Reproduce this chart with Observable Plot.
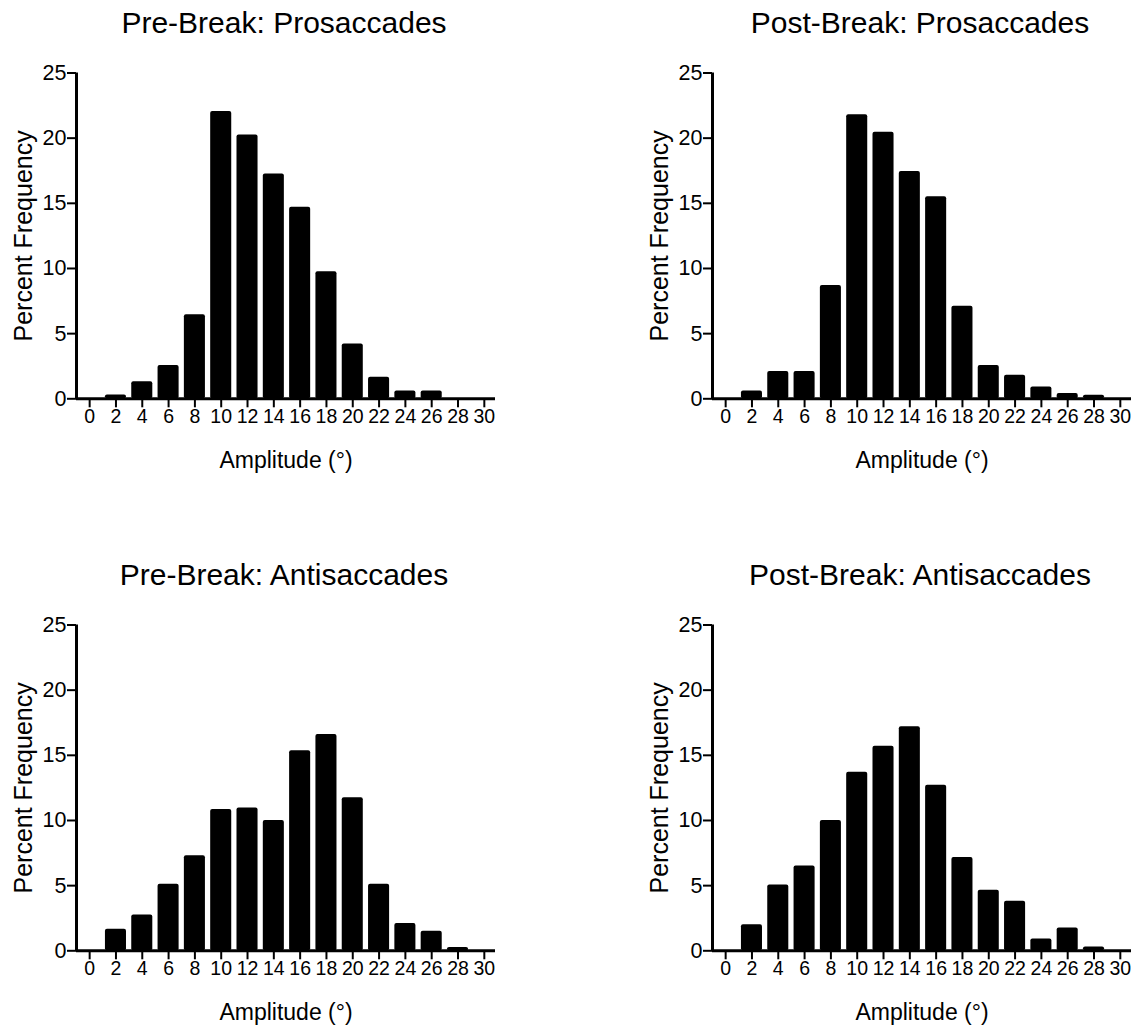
<!DOCTYPE html>
<html><head><meta charset="utf-8">
<script src="https://cdn.jsdelivr.net/npm/d3@7"></script>
<script src="https://cdn.jsdelivr.net/npm/@observablehq/plot@0.6"></script>
<style>
body{margin:0;background:#fff;font-family:"Liberation Sans",Arial,sans-serif;}
#wrap{position:relative;width:1138px;height:1032px;background:#fff;}
.panel{position:absolute;width:500px;height:500px;}
.title{position:absolute;font-size:30px;line-height:30px;color:#000;white-space:nowrap;transform:translateX(-50%);}
.panel svg{position:absolute;left:0;top:50px;}
.panel svg g[aria-label="x-axis tick label"]{font-size:19.5px;}
.panel svg g[aria-label="y-axis tick label"]{font-size:21.5px;}
</style></head><body><div id="wrap"></div>
<script>
// ---- data ----
const amplitudes = [2, 4, 6, 8, 10, 12, 14, 16, 18, 20, 22, 24, 26, 28];
const preBreakPro  = [0.3, 1.3, 2.55, 6.45, 22.05, 20.25, 17.25, 14.7, 9.75, 4.2, 1.65, 0.6, 0.6, 0];
const postBreakPro = [0.6, 2.1, 2.1, 8.7, 21.8, 20.45, 17.45, 15.5, 7.1, 2.55, 1.8, 0.9, 0.4, 0.28];
const preBreakAnti = [1.65, 2.75, 5.1, 7.3, 10.85, 10.95, 10.0, 15.35, 16.6, 11.75, 5.1, 2.1, 1.5, 0.25];
const postBreakAnti= [2.0, 5.05, 6.5, 10.0, 13.7, 15.7, 17.2, 12.7, 7.15, 4.65, 3.8, 0.9, 1.75, 0.3];
const titles = ["Pre-Break: Prosaccades", "Post-Break: Prosaccades", "Pre-Break: Antisaccades", "Post-Break: Antisaccades"];
const xTicks = [0, 2, 4, 6, 8, 10, 12, 14, 16, 18, 20, 22, 24, 26, 28, 30];
const yTicks = [0, 5, 10, 15, 20, 25];
const xLabel = "Amplitude (°)";
const yLabel = "Percent Frequency";

const series = [preBreakPro, postBreakPro, preBreakAnti, postBreakAnti];
const positions = [[0, 0], [636, 0], [0, 552], [636, 552]];
const binHalf = 0.8;
const font = "'Liberation Sans', Arial, Helvetica, sans-serif";

const wrap = document.getElementById("wrap");
series.forEach((vals, i) => {
  const data = amplitudes.map((a, j) => ({a, v: vals[j]}));
  const panel = document.createElement("div");
  panel.className = "panel";
  panel.style.left = positions[i][0] + "px";
  panel.style.top = positions[i][1] + "px";
  const t = document.createElement("div");
  t.className = "title";
  t.style.left = "284px";
  t.style.top = "8px";
  t.textContent = titles[i];
  panel.appendChild(t);

  const chart = Plot.plot({
    width: 500, height: 440,
    marginLeft: 76, marginRight: 5, marginTop: 22.5, marginBottom: 91.7,
    x: {domain: [-1, 30.85], axis: null},
    y: {domain: [0, 25], axis: null},
    style: {fontFamily: font, color: "#000", background: "white", overflow: "visible"},
    marks: [
      Plot.rectY(data, {x1: d => d.a - binHalf, x2: d => d.a + binHalf, y: "v", fill: "#000", rx: 2}),
      Plot.ruleX([-1], {y1: 0, y2: 25, stroke: "#000", strokeWidth: 3}),
      Plot.ruleY([0], {x1: -1, x2: 30.85, stroke: "#000", strokeWidth: 3}),
      Plot.axisX(xTicks, {anchor: "bottom", tickSize: 9, tickPadding: 1, strokeWidth: 2, fontSize: 19.5, tickFormat: d => String(d), label: null, fill: "#000"}),
      Plot.axisY(yTicks, {anchor: "left", tickSize: 9, tickPadding: 1, strokeWidth: 2, fontSize: 21.5, tickFormat: d => String(d), label: null, fill: "#000"}),
      Plot.text([xLabel], {frameAnchor: "bottom", dy: 62, fontSize: 23, lineAnchor: "middle", textAnchor: "middle", fill: "#000"}),
      Plot.text([yLabel], {frameAnchor: "left", dx: -53, rotate: -90, fontSize: 25, lineAnchor: "middle", textAnchor: "middle", fill: "#000"})
    ]
  });
  panel.appendChild(chart);
  wrap.appendChild(panel);
});
</script>
</body></html>
